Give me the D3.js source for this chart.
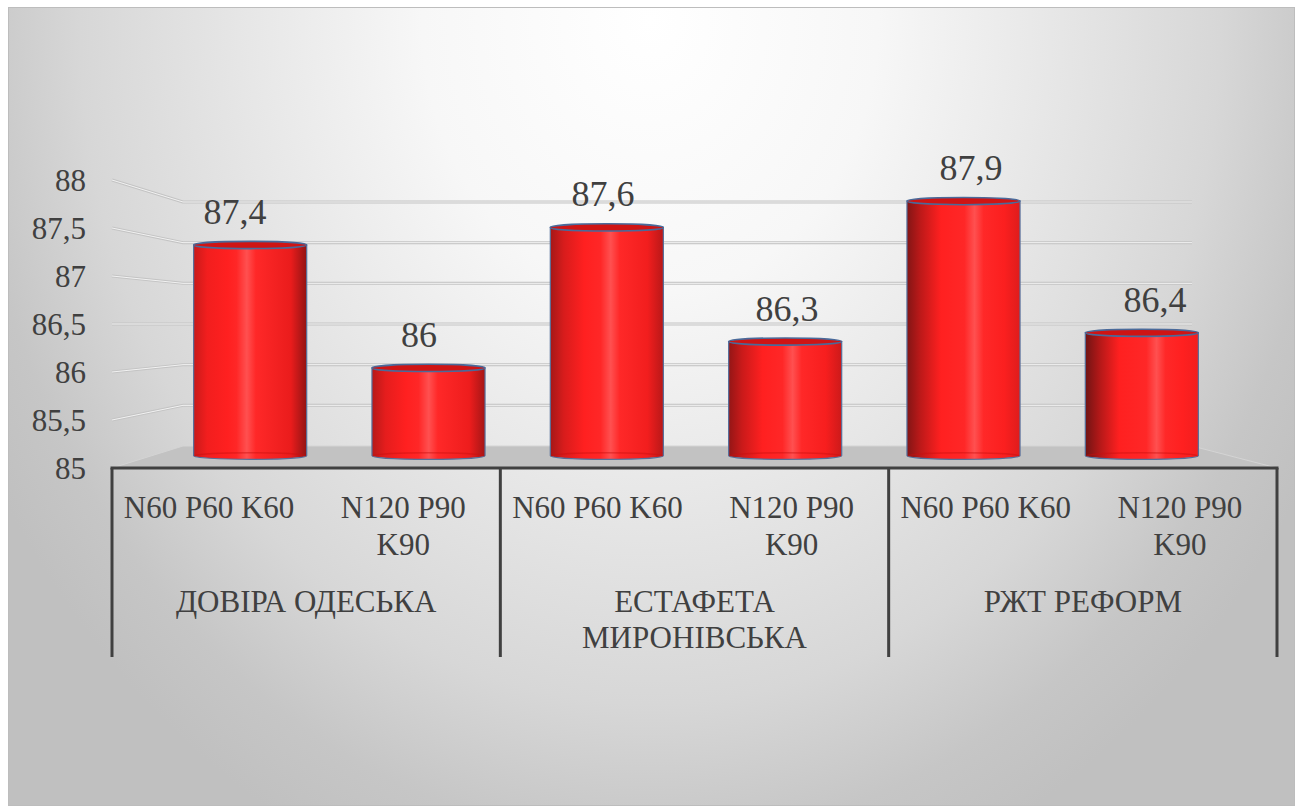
<!DOCTYPE html>
<html>
<head>
<meta charset="utf-8">
<script src="https://cdn.jsdelivr.net/npm/d3@7"></script>
<style>
  html, body { margin: 0; padding: 0; background: #ffffff; }
  svg { display: block; }
  svg text { font-family: "Liberation Serif", "Times New Roman", Tinos, "Noto Serif", "DejaVu Serif", serif; fill: #404040; }
</style>
</head>
<body>
<svg id="chart" width="1300" height="807"></svg>
<script>
// ---- data ----
const groups = ["ДОВІРА ОДЕСЬКА", "ЕСТАФЕТА МИРОНІВСЬКА", "РЖТ РЕФОРМ"];
const treatments = ["N60 P60 K60", "N120 P90 K90"];
const seriesN60 = [87.4, 87.6, 87.9];
const seriesN120 = [86, 86.3, 86.4];
const yTicks = [85, 85.5, 86, 86.5, 87, 87.5, 88];

const FONT = '"Liberation Serif", "Times New Roman", Tinos, "Noto Serif", "DejaVu Serif", serif';

// flattened categories: one per (group, treatment)
const cats = [];
groups.forEach((g, gi) => {
  cats.push({ key: gi + "-0", group: gi, label: treatments[0], value: seriesN60[gi] });
  cats.push({ key: gi + "-1", group: gi, label: treatments[1], value: seriesN120[gi] });
});
const keys = cats.map(c => c.key);
const fmt = v => String(v).replace(".", ",");

// ---- perspective planes (front edge, bar depth, label depth, back wall) ----
const yDomain = [85, 88];
const frontX = d3.scaleBand().domain(keys).range([112, 1277]);
const frontY = d3.scaleLinear().domain(yDomain).range([468, 180]);
const backX0 = 183, backX1 = 1192;
const backY = d3.scaleLinear().domain(yDomain).range([446, 202]);
const barX = d3.scaleBand().domain(keys).range([161, 1231]);
const barY = d3.scaleLinear().domain(yDomain).range([455.7, 192.3]);
const labelX = d3.scaleBand().domain(keys).range([143, 1247]);
const groupX = d3.scaleBand().domain(d3.range(groups.length)).range([112, 1277]);

const svg = d3.select("#chart");
const defs = svg.append("defs");

// chart area background
const bg = defs.append("radialGradient").attr("id", "bg")
  .attr("gradientUnits", "userSpaceOnUse")
  .attr("cx", 650).attr("cy", 20).attr("r", 760)
  .attr("gradientTransform", "translate(650,20) scale(1,1.2) translate(-650,-20)");
[[0, "#ffffff"], [0.3, "#f7f7f7"], [0.5, "#e9e9e9"], [0.75, "#d7d7d7"], [0.9, "#c6c6c6"], [1, "#c0c0c0"]]
  .forEach(([o, c]) => bg.append("stop").attr("offset", o).attr("stop-color", c));

svg.append("rect")
  .attr("x", 8.5).attr("y", 7.5).attr("width", 1286).attr("height", 798)
  .attr("fill", "url(#bg)").attr("stroke", "#bdbdbd").attr("stroke-width", 1);

// ---- walls: gridlines ----
const grid = svg.append("g");
function embossed(sel) {
  sel.clone().attr("stroke", "#c4c4c4").attr("stroke-width", 3).lower();
  sel.attr("stroke", "#f2f2f2").attr("stroke-width", 1);
}
const gridVals = yTicks.filter(v => v > yDomain[0]);
const wallG = grid.append("g");
gridVals.forEach(v => {
  const l = wallG.append("path")
    .attr("fill", "none")
    .attr("stroke-linejoin", "round")
    .attr("d", `M${frontX.range()[0]},${frontY(v)}L${backX0},${backY(v)}L${backX1},${backY(v)}`);
  embossed(l);
});

// floor
svg.append("path")
  .attr("d", `M${frontX.range()[0]},${frontY(85)}L${backX0},${backY(85)}L${backX1},${backY(85)}L${frontX.range()[1]},${frontY(85)}Z`)
  .attr("fill", "#c2c2c2")
  .attr("stroke", "#d4d4d4").attr("stroke-width", 1);

// ---- cylinders ----
const bars = svg.append("g");
const ry = 3.6;
cats.forEach((c, i) => {
  const t = i / (cats.length - 1);
  const h = 0.47 + 0.16 * t;
  const gid = "cyl" + i;
  const g = defs.append("linearGradient").attr("id", gid).attr("x1", 0).attr("x2", 1).attr("y1", 0).attr("y2", 0);
  [
    [0, d3.interpolateRgb("#c81a1a", "#701414")(t)],
    [0.12, d3.interpolateRgb("#f21e1e", "#b01818")(t)],
    [0.3, "#ff2020"],
    [h - 0.09, "#ff2727"],
    [h, "#ff5050"],
    [h + 0.08, "#ff2828"],
    [0.86, d3.interpolateRgb("#ea1c1c", "#ff2020")(t)],
    [1, d3.interpolateRgb("#921414", "#f21e1e")(t)]
  ].forEach(([o, col]) => g.append("stop").attr("offset", o).attr("stop-color", col));

  const w = barX.bandwidth() * 0.634;
  const cx = barX(c.key) + barX.bandwidth() / 2;
  const x0 = cx - w / 2, x1 = cx + w / 2;
  const yt = barY(c.value), yb = barY(yDomain[0]);
  const rx = w / 2;

  bars.append("path")
    .attr("d", `M${x0},${yt}L${x0},${yb}A${rx},${ry} 0 0 0 ${x1},${yb}L${x1},${yt}Z`)
    .attr("fill", `url(#${gid})`)
    .attr("stroke", "#56709c").attr("stroke-width", 1.2);

  // far half of the base seen through the body
  bars.append("path")
    .attr("d", `M${x0 + 1},${yb}A${rx},${ry} 0 0 1 ${x1 - 1},${yb}`)
    .attr("fill", "none").attr("stroke", "#c81010").attr("stroke-opacity", 0.45).attr("stroke-width", 1.5);

  // top cap
  bars.append("ellipse")
    .attr("cx", cx).attr("cy", yt).attr("rx", rx).attr("ry", ry)
    .attr("fill", "#cf1414")
    .attr("stroke", "#4a6a9a").attr("stroke-width", 1.6);

  // value label
  bars.append("text")
    .attr("x", labelX(c.key) + labelX.bandwidth() / 2)
    .attr("y", yt - 21)
    .attr("text-anchor", "middle")
    .attr("font-family", FONT)
    .attr("font-size", 36)
    .text(fmt(c.value));
});

// ---- value axis labels ----
const yAxis = d3.axisLeft(frontY).tickValues(yTicks).tickSize(0).tickPadding(0).tickFormat(fmt);
const ya = svg.append("g").attr("transform", "translate(86,0)").call(yAxis)
  .attr("font-family", FONT);
ya.select(".domain").remove();
ya.selectAll("text")
  .attr("font-family", FONT)
  .attr("font-size", 31)
  .attr("fill", "#404040")
  .attr("dy", "0.34em");

// ---- category axis ----
const axisG = svg.append("g");

function wrapLines(textSel, str, maxW) {
  const words = str.split(" ");
  const lines = [];
  let cur = "";
  words.forEach(wd => {
    const trial = cur ? cur + " " + wd : wd;
    textSel.text(trial);
    if (cur && textSel.node().getComputedTextLength() > maxW) {
      lines.push(cur);
      cur = wd;
    } else {
      cur = trial;
    }
  });
  lines.push(cur);
  textSel.text(null);
  return lines;
}

function multiline(x, yFirst, str, maxW, lh) {
  const t = axisG.append("text").attr("text-anchor", "middle")
    .attr("font-family", FONT).attr("font-size", 31);
  const lines = wrapLines(t, str, maxW);
  lines.forEach((ln, k) => {
    t.append("tspan").attr("x", x).attr("y", yFirst + k * lh).text(ln);
  });
}

cats.forEach(c => {
  multiline(frontX(c.key) + frontX.bandwidth() / 2, 518, c.label, 182, 37);
});
groups.forEach((g, gi) => {
  multiline(groupX(gi) + groupX.bandwidth() / 2, 612, g, 370, 36);
});

// axis line and group separators
axisG.append("line")
  .attr("x1", frontX.range()[0] - 1.5).attr("x2", frontX.range()[1] + 1.5)
  .attr("y1", frontY(85)).attr("y2", frontY(85))
  .attr("stroke", "#404040").attr("stroke-width", 3);
d3.range(groups.length + 1).forEach(k => {
  const x = k < groups.length ? groupX(k) : groupX.range()[1];
  axisG.append("line")
    .attr("x1", x).attr("x2", x)
    .attr("y1", frontY(85)).attr("y2", 657)
    .attr("stroke", "#404040").attr("stroke-width", 3);
});
</script>
</body>
</html>
